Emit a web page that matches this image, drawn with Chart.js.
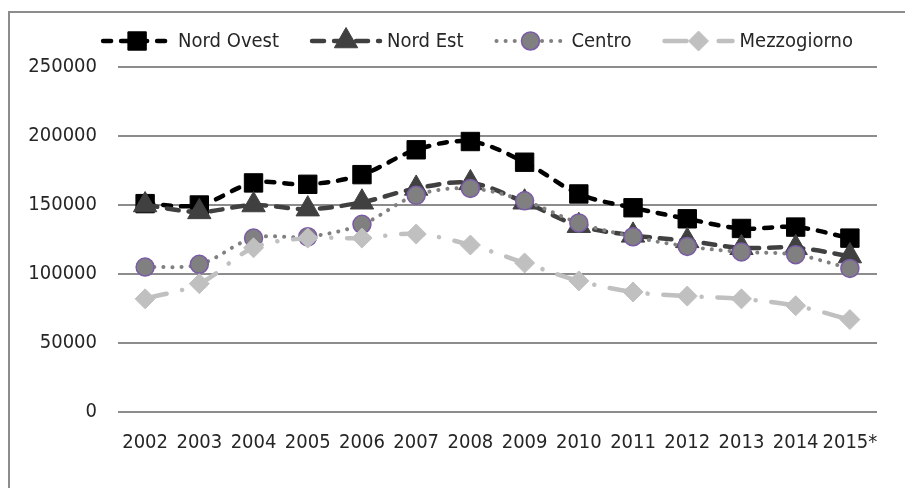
<!DOCTYPE html>
<html>
<head>
<meta charset="utf-8">
<script src="https://cdn.jsdelivr.net/npm/chart.js@4"></script>
<style>
  body { margin: 0; background: #fff; }
  #wrap { width: 905px; height: 488px; }
</style>
</head>
<body>
<div id="wrap"><canvas id="regionChart" width="905" height="488"></canvas></div>
<script>
const years = ['2002', '2003', '2004', '2005', '2006', '2007', '2008', '2009', '2010', '2011', '2012', '2013', '2014', '2015*'];
const nordOvest   = [151000, 150000, 166000, 165000, 172000, 190000, 196000, 181000, 158000, 148000, 140000, 133000, 134000, 126000];
const nordEst     = [150000, 145000, 150000, 147000, 152000, 162000, 166000, 152000, 135000, 128000, 124000, 119000, 119000, 113000];
const centro      = [105000, 107000, 126000, 127000, 136000, 157000, 162000, 153000, 137000, 127000, 120000, 116000, 114000, 104000];
const mezzogiorno = [82000, 93000, 119000, 126000, 126000, 129000, 121000, 108000, 95000, 87000, 84000, 82000, 77000, 67000];
const yTicks = [0, 50000, 100000, 150000, 200000, 250000];

const FONT = '"DejaVu Sans Condensed", "Liberation Sans", sans-serif';
const FONT_SIZE = 20;
const TEXT_COLOR = '#262626';
const GRID_COLOR = '#8c8c8c';

// cornice del grafico (solo lato sinistro e superiore visibili)
const framePlugin = {
    id: 'frame',
    beforeDraw(chart) {
        const c = chart.ctx;
        c.save();
        c.strokeStyle = GRID_COLOR;
        c.lineWidth = 2;
        c.beginPath();
        c.moveTo(9, chart.height);
        c.lineTo(9, 12);
        c.lineTo(chart.width, 12);
        c.stroke();
        c.restore();
    }
};

// legenda in stile Excel: tratto di linea con marcatore al centro
const legendPlugin = {
    id: 'excelLegend',
    afterDraw(chart) {
        const c = chart.ctx;
        const symW = 72, textGap = 5, itemGap = 31, y = 41, centerX = 477;
        c.save();
        c.font = FONT_SIZE + 'px ' + FONT;
        c.textBaseline = 'middle';
        const items = chart.data.datasets.map(ds => ({ ds, tw: c.measureText(ds.label).width }));
        const total = items.reduce((s, it) => s + symW + textGap + it.tw, 0) + itemGap * (items.length - 1);
        let x = centerX - total / 2;
        items.forEach(({ ds, tw }) => {
            c.save();
            c.strokeStyle = ds.borderColor;
            c.lineWidth = ds.borderWidth;
            c.lineCap = ds.borderCapStyle || 'butt';
            c.setLineDash(ds.borderDash || []);
            c.beginPath();
            c.moveTo(x + 2, y);
            c.lineTo(x + symW - 2, y);
            c.stroke();
            c.restore();

            c.save();
            c.fillStyle = ds.pointBackgroundColor;
            c.strokeStyle = ds.pointBorderColor;
            c.lineWidth = ds.pointBorderWidth;
            Chart.helpers.drawPoint(c, {
                pointStyle: ds.pointStyle,
                radius: ds.pointRadius,
                rotation: 0,
                borderWidth: ds.pointBorderWidth
            }, x + symW / 2, y);
            c.restore();

            c.fillStyle = TEXT_COLOR;
            c.fillText(ds.label, x + symW + textGap, y + 1);
            x += symW + textGap + tw + itemGap;
        });
        c.restore();
    }
};

const ctx = document.getElementById('regionChart').getContext('2d');
new Chart(ctx, {
    type: 'line',
    data: {
        labels: years,
        datasets: [
            {
                label: 'Nord Ovest',
                data: nordOvest,
                borderColor: '#000000',
                borderWidth: 4.5,
                borderDash: [8, 10],
                borderCapStyle: 'round',
                pointStyle: 'rect',
                pointRadius: 13,
                pointBackgroundColor: '#000000',
                pointBorderColor: '#000000',
                pointBorderWidth: 1,
                tension: 0.35,
                order: 4
            },
            {
                label: 'Nord Est',
                data: nordEst,
                borderColor: '#404040',
                borderWidth: 4.5,
                borderDash: [12, 10],
                borderCapStyle: 'round',
                pointStyle: 'triangle',
                pointRadius: 13.5,
                pointBackgroundColor: '#404040',
                pointBorderColor: '#404040',
                pointBorderWidth: 1,
                tension: 0.35,
                order: 3
            },
            {
                label: 'Centro',
                data: centro,
                borderColor: '#808080',
                borderWidth: 4,
                borderDash: [0.1, 9],
                borderCapStyle: 'round',
                pointStyle: 'circle',
                pointRadius: 9,
                pointBackgroundColor: '#808080',
                pointBorderColor: '#7a5ba6',
                pointBorderWidth: 1.5,
                tension: 0.35,
                order: 2
            },
            {
                label: 'Mezzogiorno',
                data: mezzogiorno,
                borderColor: '#c0c0c0',
                borderWidth: 4.5,
                borderDash: [22, 16, 0.1, 16],
                borderCapStyle: 'round',
                pointStyle: 'rectRot',
                pointRadius: 10,
                pointBackgroundColor: '#c0c0c0',
                pointBorderColor: '#c0c0c0',
                pointBorderWidth: 1,
                tension: 0.35,
                order: 1
            }
        ]
    },
    options: {
        responsive: false,
        animation: false,
        layout: {
            padding: { top: 67, right: 28, bottom: 0, left: 0 }
        },
        plugins: {
            legend: { display: false },
            tooltip: { enabled: false }
        },
        scales: {
            x: {
                offset: true,
                border: { display: false },
                grid: { display: false, drawTicks: false },
                ticks: {
                    color: TEXT_COLOR,
                    font: { family: FONT, size: FONT_SIZE },
                    padding: 19,
                    maxRotation: 0,
                    autoSkip: false
                },
                afterFit: axis => { axis.height = 76; }
            },
            y: {
                min: 0,
                max: 250000,
                border: { display: false },
                grid: { color: GRID_COLOR, lineWidth: 2, drawTicks: false },
                afterBuildTicks: axis => { axis.ticks = yTicks.map(v => ({ value: v })); },
                ticks: {
                    color: TEXT_COLOR,
                    font: { family: FONT, size: FONT_SIZE },
                    padding: 21,
                    callback: v => String(v)
                },
                afterFit: axis => { axis.width = 118; }
            }
        }
    },
    plugins: [framePlugin, legendPlugin]
});
</script>
</body>
</html>
